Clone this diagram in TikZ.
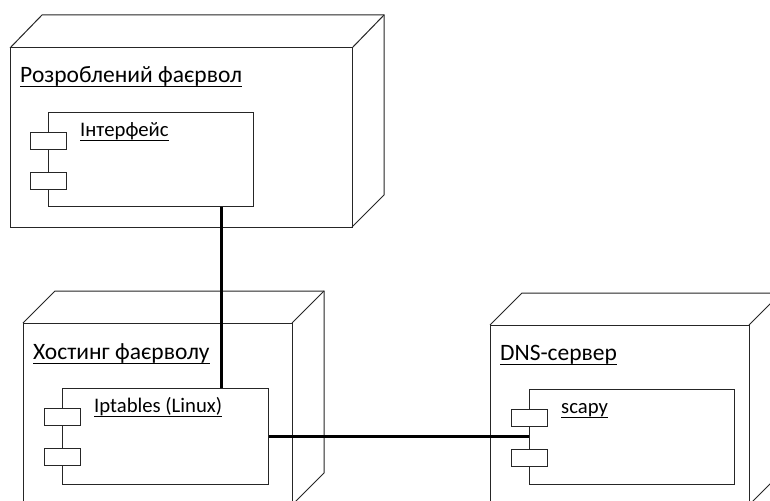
\documentclass[tikz,border=0pt]{standalone}
\usepackage{fontspec}
\setmainfont{Carlito}
\usetikzlibrary{calc}

\tikzset{
  boxline/.style={draw=black!85, line width=1pt},
  comp/.style={draw=black!85, line width=1pt, fill=white, anchor=north west, inner sep=0pt},
  port/.style={draw=black!85, line width=1pt, fill=white, minimum width=36pt, minimum height=17pt, inner sep=0pt},
  title/.style={anchor=base west, inner sep=0pt, font=\fontsize{23.5}{26}\selectfont},
  clabel/.style={anchor=base west, inner sep=0pt, font=\fontsize{20.7}{24}\selectfont},
  conn/.style={line width=3pt, black},
}

% underlined text label
\newcommand\uline[2]{%
  \draw[line width=1pt] ([yshift=-#2]#1.base west) -- ([yshift=-#2]#1.base east);
}

% component with two ports on its left edge (y grows downwards)
\newcommand\component[6]{% name, x, y, width, height, label
  \node[comp, minimum width=#4pt, minimum height=#5pt] (#1) at (#2,#3) {};
  \node[port] (#1p1) at ($(#1.north west)+(0,29)$) {};
  \node[port] (#1p2) at ($(#1.north west)+(0,68.5)$) {};
  \node[clabel] (#1lbl) at ($(#1.north west)+(32,24.5)$) {#6};
  \uline{#1lbl}{3.5pt}
}

\begin{document}
\begin{tikzpicture}[x=1pt, y=-1pt]
  \useasboundingbox (0,0) rectangle (770,500);
  \clip (0,0) rectangle (770,500);
  \fill[white] (0,0) rectangle (770,500);

  % developed firewall node
  \draw[boxline] (10,48) rectangle (352,227);
  \draw[boxline] (10,48) -- (42,15) -- (384,15) -- (384,195) -- (352,227);
  \draw[boxline] (384,15) -- (352,48);
  \node[title] (t1) at (20,82.7) {Розроблений фаєрвол};
  \uline{t1}{4pt}
  \component{intf}{48}{112}{205}{94}{Інтерфейс}

  % hosting node
  \draw[boxline] (23,323) rectangle (292,505);
  \draw[boxline] (23,323) -- (55,291) -- (324,291) -- (324,473) -- (292,505);
  \draw[boxline] (324,291) -- (292,323);
  \node[title] (t2) at (33,359.5) {Хостинг фаєрволу};
  \uline{t2}{4pt}
  \component{ipt}{62}{388}{206}{96}{Iptables (Linux)}

  % DNS server node
  \draw[boxline] (490,325) rectangle (749,505);
  \draw[boxline] (490,325) -- (522,293) -- (781,293) -- (781,473) -- (749,505);
  \draw[boxline] (781,293) -- (749,325);
  \node[title] (t3) at (500,360) {DNS-сервер};
  \uline{t3}{4pt}
  \component{scapy}{529}{389}{205}{95}{scapy}

  % links
  \coordinate (c1) at ($(intf.south west)+(173,0)$);
  \draw[conn] (c1) -- (c1 |- ipt.north);
  \draw[conn] (ipt.east) -- (ipt.east -| scapy.west);
\end{tikzpicture}
\end{document}
